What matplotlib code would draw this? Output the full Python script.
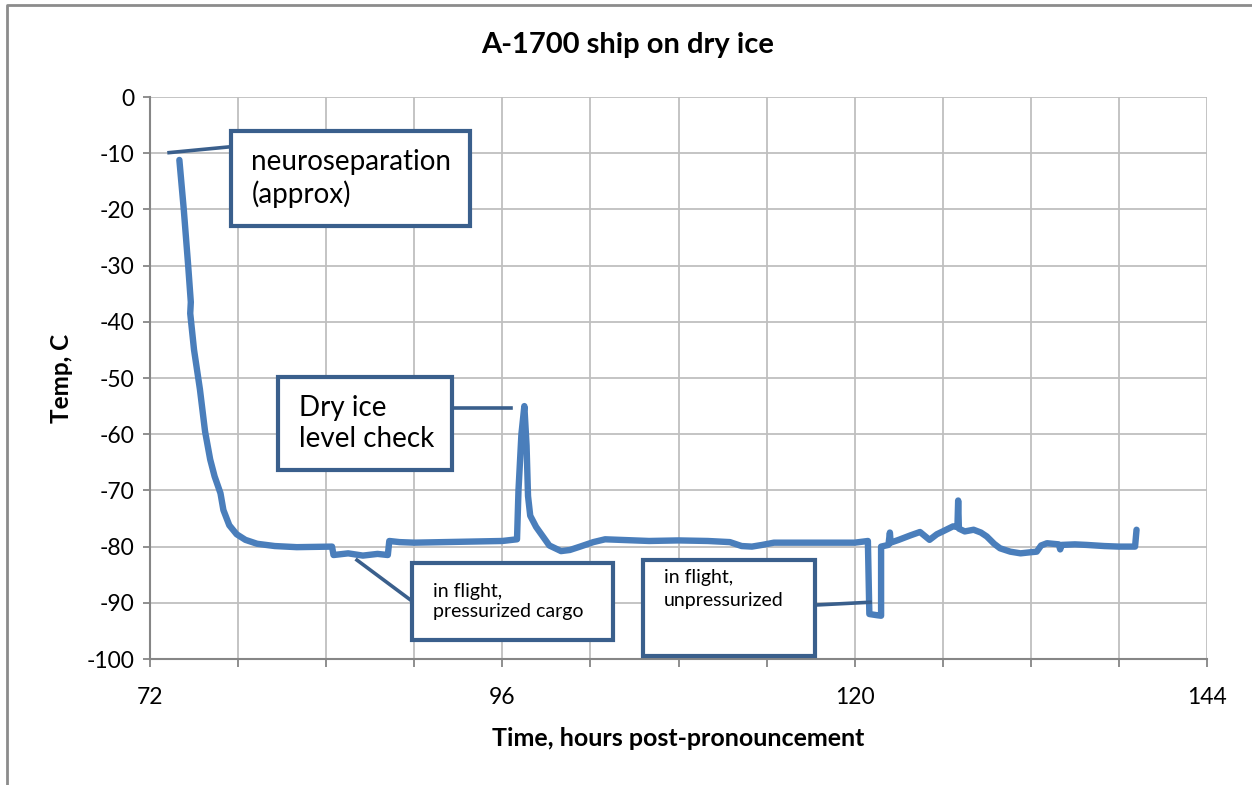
import matplotlib
matplotlib.use("Agg")
import matplotlib.pyplot as plt
from matplotlib.patches import Rectangle
from matplotlib.lines import Line2D
from matplotlib.ticker import MultipleLocator, FuncFormatter

# Данные
hours = [74.0, 74.3, 74.6, 74.78, 74.74, 75.0, 75.4, 75.75, 76.1, 76.4, 76.6, 76.8, 77.0,
         77.4, 77.9, 78.5, 79.3, 80.5, 82.0, 84.4, 84.5, 85.5, 86.5, 87.5, 88.2,
         88.3, 89.0, 90.0, 92.0, 94.0, 96.0, 97.0, 97.1, 97.3, 97.5, 97.65, 97.75,
         97.9, 98.3, 98.6, 99.2, 100.0, 100.6, 101.3, 102.2, 103.0, 104.0, 105.0,
         106.0, 108.0, 110.0, 111.5, 112.3, 113.0, 113.7, 114.5, 116.0, 118.0,
         120.0, 120.9, 121.0, 121.5, 121.8, 121.8, 122.3, 122.4, 122.45, 123.0,
         123.8, 124.45, 125.1, 125.6, 126.0, 126.7, 127.0, 127.05, 127.1, 127.5,
         128.1, 128.6, 129.0, 129.5, 129.9, 130.6, 131.3, 132.0, 132.4, 132.7,
         133.1, 133.9, 134.0, 134.1, 135.0, 135.8, 137.0, 138.0, 139.1, 139.2]
temps = [-11.2, -20.0, -30.0, -36.5, -38.5, -45.0, -52.0, -59.5, -64.5, -67.5, -69.0, -70.5, -73.5,
         -76.2, -77.8, -78.8, -79.5, -79.9, -80.1, -80.0, -81.5, -81.2, -81.6, -81.3, -81.5,
         -79.0, -79.2, -79.3, -79.2, -79.1, -79.0, -78.7, -70.0, -60.0, -55.0, -62.0, -71.0,
         -74.5, -76.5, -77.6, -79.8, -80.8, -80.6, -80.0, -79.2, -78.7, -78.8, -78.9,
         -79.0, -78.9, -79.0, -79.2, -79.9, -80.0, -79.7, -79.3, -79.3, -79.3,
         -79.3, -79.0, -92.0, -92.2, -92.3, -80.0, -79.7, -77.5, -79.3, -78.8,
         -78.0, -77.4, -78.8, -77.8, -77.3, -76.4, -76.5, -71.8, -76.8, -77.3,
         -77.0, -77.5, -78.2, -79.5, -80.3, -80.9, -81.2, -81.0, -80.9, -79.8,
         -79.4, -79.6, -80.5, -79.7, -79.6, -79.7, -79.9, -80.0, -80.0, -77.0]

title = "A-1700 ship on dry ice"
x_label = "Time, hours post-pronouncement"
y_label = "Temp, C"

# Подписи: текст, рамка (x0, x1, y0, y1), выноска (x0, y0, x1, y1), размер, выравнивание
notes = [
    ("neuroseparation\n(approx)", (77.5, 93.8, -6.1, -22.9), (73.3, -9.9, 77.5, -8.85), 20, "center"),
    ("Dry ice\nlevel check", (80.75, 92.55, -49.8, -66.4), (92.55, -55.3, 96.6, -55.3), 20, "center"),
    ("in flight,\npressurized cargo", (89.85, 103.55, -83.0, -96.6), (86.1, -82.4, 89.85, -89.7), 14, "center"),
    ("in flight,\nunpressurized", (105.6, 117.3, -82.4, -99.5), (117.3, -90.4, 121.05, -89.9), 14, "top"),
]

plt.rcParams["font.family"] = ["Lato", "DejaVu Sans"]
plt.rcParams["axes.unicode_minus"] = False

fig = plt.figure(figsize=(12.52, 7.85), dpi=100)
ax = fig.add_axes([150 / 1252, 1 - 659 / 785, 1057 / 1252, 562 / 785])

ax.plot(hours, temps, color="#4a7ebb", lw=4.6, solid_joinstyle="round",
        solid_capstyle="round", zorder=3)

ax.set_xlim(72, 144)
ax.set_ylim(-100, 0)
ax.xaxis.set_major_locator(MultipleLocator(6))
ax.xaxis.set_major_formatter(FuncFormatter(lambda v, p: f"{v:.0f}" if round(v) % 24 == 0 else ""))
ax.yaxis.set_major_locator(MultipleLocator(10))
ax.grid(True, color="#bfbfbf", lw=1.3)
ax.set_axisbelow(True)
for s in ["top", "right"]:
    ax.spines[s].set_visible(False)
for s in ["left", "bottom"]:
    ax.spines[s].set_color("#868686")
    ax.spines[s].set_linewidth(1.5)
ax.tick_params(axis="x", direction="out", length=6, width=1.3, color="#868686",
               labelsize=16.5, pad=14)
ax.tick_params(axis="y", direction="out", length=5, width=1.3, color="#868686",
               labelsize=16.5, pad=6)

ax.set_xlabel(x_label, fontsize=18, fontweight="bold", labelpad=14)
ax.set_ylabel(y_label, fontsize=17.5, fontweight="bold", labelpad=10)
fig.text(628 / 1252, 1 - 45 / 785, title, fontsize=21, fontweight="bold",
         ha="center", va="center")

box_col = "#3a5f8c"
for txt, (x0, x1, y0, y1), (lx0, ly0, lx1, ly1), fs, va in notes:
    ax.plot([lx0, lx1], [ly0, ly1], color=box_col, lw=2.6, zorder=4, clip_on=False)
    ax.add_patch(Rectangle((x0, y1), x1 - x0, y0 - y1, facecolor="white",
                           edgecolor=box_col, lw=3, zorder=5))
    tx = x0 + 1.4
    if va == "center":
        ax.text(tx, (y0 + y1) / 2, txt, fontsize=fs, ha="left", va="center",
                linespacing=1.25, zorder=6)
    else:
        ax.text(tx, y0 - 1.6, txt, fontsize=fs, ha="left", va="top",
                linespacing=1.45, zorder=6)

# рамка области диаграммы
fig.add_artist(Line2D([7 / 1252, 7 / 1252, 1.0], [0.0, 1 - 5 / 785, 1 - 5 / 785],
                      color="#8c8c8c", lw=2))

fig.savefig("out.png", dpi=100)
